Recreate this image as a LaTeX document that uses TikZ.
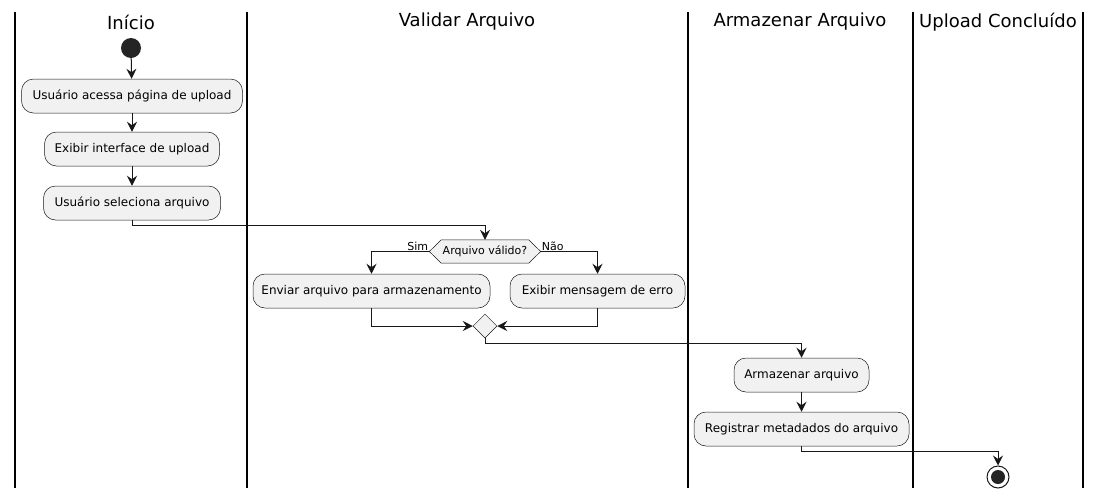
\documentclass[tikz,border=0pt]{standalone}
\usepackage{fontspec}
\setmainfont{DejaVu Sans}
\usetikzlibrary{arrows.meta,shapes.geometric,calc}
\definecolor{boxfill}{HTML}{F1F1F1}
\definecolor{ink}{HTML}{181818}
\begin{document}
\begin{tikzpicture}[x=1pt,y=-1pt,
  act/.style={draw=ink,line width=0.5pt,fill=boxfill,rounded corners=12pt,minimum height=34pt,inner sep=0pt,font=\fontsize{12}{14}\selectfont},
  conn/.style={draw=ink,line width=1pt,-{Stealth[length=10pt,width=10pt,inset=3.5pt]}},
  lane/.style={draw=black,line width=1.5pt},
  title/.style={font=\fontsize{18}{21}\selectfont,inner sep=0pt},
  lbl/.style={font=\fontsize{11}{13}\selectfont,inner sep=1pt}]
\useasboundingbox (0,0) rectangle (1101,499);
% lanes
\draw[lane] (15,12) -- (15,488);
\draw[lane] (247,12) -- (247,488);
\draw[lane] (688,12) -- (688,488);
\draw[lane] (913,12) -- (913,488);
\draw[lane] (1083,12) -- (1083,488);
\node[title] (t1) at (131,22) {Início};
\node[title] (t2) at (467,22) {Validar Arquivo};
\node[title] (t3) at (800,22) {Armazenar Arquivo};
\node[title] (t4) at (998,22) {Upload Concluído};
% nodes
\node[circle,fill=ink!95!white,minimum size=20pt,inner sep=0pt] (start) at (131,48) {};
\node[act,minimum width=221pt] (b1) at (132,96) {Usuário acessa página de upload};
\node[act,minimum width=175pt] (b2) at (132,149) {Exibir interface de upload};
\node[act,minimum width=177pt] (b3) at (132,203) {Usuário seleciona arquivo};
\node[minimum width=87pt,minimum height=23pt,inner sep=0pt] (dec) at (485,251.5) {};
\coordinate (decL) at ($(dec.west)+(-12,0)$);
\coordinate (decR) at ($(dec.east)+(12,0)$);
\draw[ink,line width=0.5pt,fill=boxfill] (decL) -- (dec.north west) -- (dec.north east) -- (decR) -- (dec.south east) -- (dec.south west) -- cycle;
\node[font=\fontsize{11}{13}\selectfont,inner sep=0pt] (dect) at (dec) {Arquivo válido?};
\node[lbl,anchor=south east] (sim) at (decL) {Sim};
\node[lbl,anchor=south west] (nao) at (decR) {Não};
\node[act,minimum width=237pt] (b4) at (371.5,291) {Enviar arquivo para armazenamento};
\node[act,minimum width=175pt] (b5) at (597.5,291) {Exibir mensagem de erro};
\node[diamond,draw=ink,line width=0.5pt,fill=boxfill,minimum width=24pt,minimum height=24pt,inner sep=0pt] (mrg) at (485,326) {};
\node[act,minimum width=135pt] (b6) at (801.5,375) {Armazenar arquivo};
\node[act,minimum width=215pt] (b7) at (801.5,429) {Registrar metadados do arquivo};
\node[circle,draw=ink,line width=1pt,fill=white,minimum size=22pt,inner sep=0pt] (end) at (998,477) {};
\node[circle,fill=ink!95!white,minimum size=14pt,inner sep=0pt] (endin) at (998,477) {};
% connectors
\draw[conn] (start) -- (b1);
\draw[conn] (b1) -- (b2);
\draw[conn] (b2) -- (b3);
\draw[conn] (b3.south) -- ++(0,5) -| (dec.north);
\draw[conn] (decL) -| (b4.north);
\draw[conn] (decR) -| (b5.north);
\draw[conn] (b4.south) |- (mrg.west);
\draw[conn] (b5.south) |- (mrg.east);
\draw[conn] (mrg.south) -- ++(0,5) -| (b6.north);
\draw[conn] (b6) -- (b7);
\draw[conn] (b7.south) -- ++(0,5) -| (end.north);
\end{tikzpicture}
\end{document}
